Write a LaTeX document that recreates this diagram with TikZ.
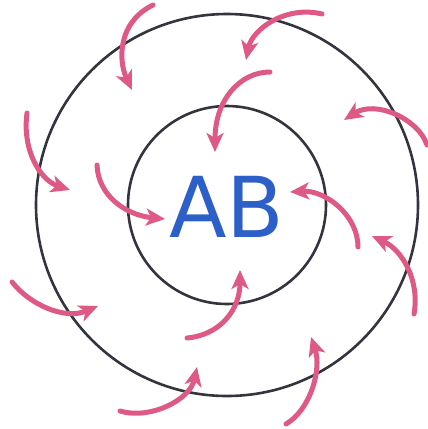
\documentclass[tikz,border=0pt]{standalone}
\usepackage{fontspec}
\usepackage{xcolor}
\usepackage{tikz}
\usetikzlibrary{arrows.meta}
\newfontfamily\handfont{DejaVu Sans}
\definecolor{ringgray}{RGB}{52,52,62}
\definecolor{pullpink}{RGB}{222,90,132}
\definecolor{letterblue}{RGB}{45,95,200}

\tikzset{
  ring/.style={draw=ringgray, line width=2.6pt, circle, inner sep=0pt},
  pull/.style={-{Stealth[length=19pt, width=17pt, inset=5pt]}, line width=5pt, pullpink, line cap=round},
}

\begin{document}
\begin{tikzpicture}[x=1pt, y=-1pt]
\useasboundingbox (0,0) rectangle (428,429);
% ---- rings ----
\node[ring, minimum size=382pt] (outer) at (227,205) {};
\node[ring, minimum size=198pt] (inner) at (227,205) {};
\node[letterblue, font=\handfont\fontsize{84}{84}\selectfont] (ab) at (227,207) {AB};
% ---- outer ring: pulls from outside ----
\draw[pull] (153,5) .. controls (118,22) and (118,60) .. (132,90);
\draw[pull] (322,14) .. controls (285,5) and (252,30) .. (246,60);
\draw[pull] (427,145) .. controls (418,118) and (375,100) .. (344,120);
\draw[pull] (414,314) .. controls (420,280) and (402,250) .. (372,236);
\draw[pull] (286,424) .. controls (310,410) and (322,370) .. (311,337);
\draw[pull] (120,411) .. controls (150,420) and (190,400) .. (197,367);
\draw[pull] (12,282) .. controls (30,305) and (65,320) .. (98,306);
\draw[pull] (27,113) .. controls (22,150) and (40,180) .. (70,190);
% ---- inner ring: pulls towards AB ----
\draw[pull] (270,72) .. controls (240,72) and (215,100) .. (215,152);
\draw[pull] (358,247) .. controls (358,215) and (325,190) .. (290,192);
\draw[pull] (187,338) .. controls (220,335) and (240,310) .. (240,270);
\draw[pull] (97,165) .. controls (98,195) and (125,215) .. (165,219);
\end{tikzpicture}
\end{document}
